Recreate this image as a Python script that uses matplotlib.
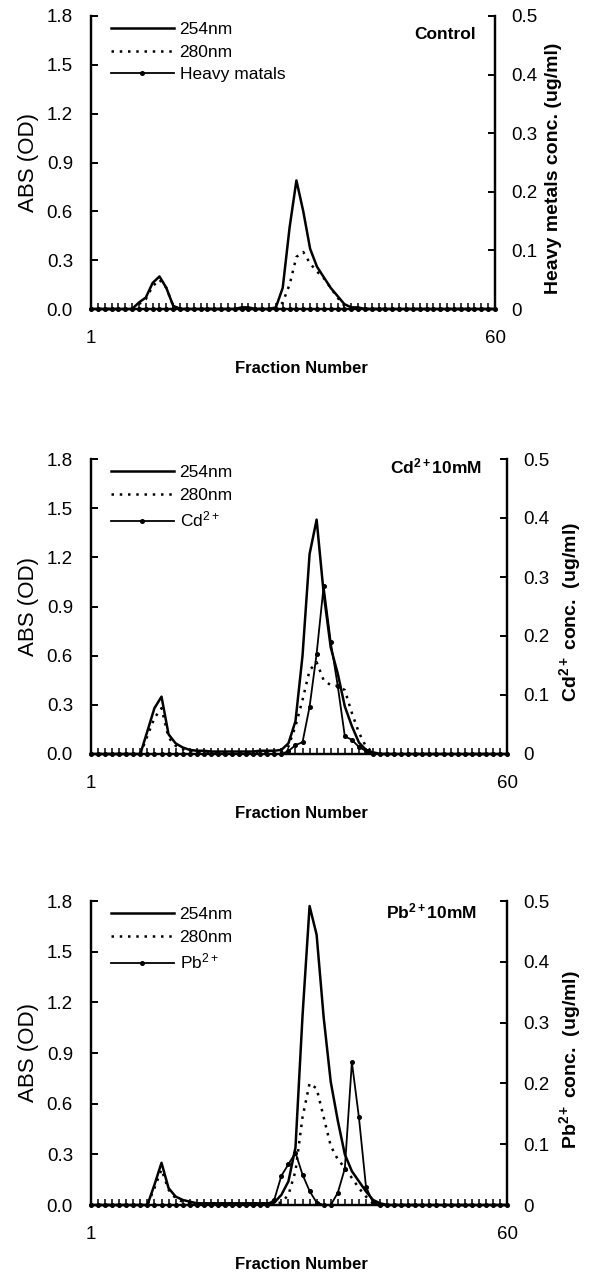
import numpy as np
import matplotlib
matplotlib.use("Agg")
import matplotlib.pyplot as plt
from matplotlib.ticker import MultipleLocator

plt.rcParams['font.family'] = ['Liberation Sans', 'DejaVu Sans']
plt.rcParams['mathtext.fontset'] = 'custom'
plt.rcParams['mathtext.rm'] = 'Liberation Sans'
plt.rcParams['mathtext.bf'] = 'Liberation Sans:bold'
plt.rcParams['mathtext.it'] = 'Liberation Sans:italic'

# ---------------- data ----------------
fractions = list(range(1, 61))

# Control
ctrl_254 = [0, 0, 0, 0, 0, 0, 0, 0.04, 0.07, 0.16,
            0.20, 0.13, 0.02, 0, 0, 0, 0, 0, 0, 0,
            0, 0, 0.01, 0.01, 0, 0, 0, 0.01, 0.13, 0.50,
            0.79, 0.60, 0.37, 0.26, 0.195, 0.13, 0.08, 0.03, 0.01, 0.01,
            0, 0, 0, 0, 0, 0, 0, 0, 0, 0,
            0, 0, 0, 0, 0, 0, 0, 0, 0, 0]
ctrl_280 = [0, 0, 0, 0, 0, 0, 0, 0.03, 0.06, 0.14,
            0.18, 0.13, 0.02, 0, 0, 0, 0, 0, 0, 0,
            0, 0, 0, 0, 0, 0, 0, 0, 0.04, 0.15,
            0.32, 0.35, 0.28, 0.23, 0.19, 0.13, 0.07, 0.02, 0, 0,
            0, 0, 0, 0, 0, 0, 0, 0, 0, 0,
            0, 0, 0, 0, 0, 0, 0, 0, 0, 0]
ctrl_metal = [0] * 60

# Cd2+ 10mM
cd_254 = [0, 0, 0, 0, 0, 0, 0, 0, 0.14, 0.28,
          0.35, 0.12, 0.065, 0.04, 0.025, 0.02, 0.02, 0.015, 0.015, 0.015,
          0.015, 0.015, 0.015, 0.015, 0.02, 0.02, 0.02, 0.025, 0.065, 0.20,
          0.60, 1.22, 1.43, 0.98, 0.65, 0.49, 0.29, 0.17, 0.07, 0.025,
          0.01, 0, 0, 0, 0, 0, 0, 0, 0, 0,
          0, 0, 0, 0, 0, 0, 0, 0, 0, 0]
cd_280 = [0, 0, 0, 0, 0, 0, 0, 0, 0.11, 0.22,
          0.28, 0.10, 0.05, 0.03, 0.02, 0.01, 0.01, 0.01, 0.01, 0.01,
          0.01, 0.01, 0.01, 0.01, 0.01, 0.01, 0.01, 0.015, 0.045, 0.17,
          0.33, 0.51, 0.56, 0.45, 0.42, 0.415, 0.39, 0.25, 0.13, 0.045,
          0.01, 0, 0, 0, 0, 0, 0, 0, 0, 0,
          0, 0, 0, 0, 0, 0, 0, 0, 0, 0]
cd_metal = [0, 0, 0, 0, 0, 0, 0, 0, 0, 0,
            0, 0, 0, 0, 0, 0, 0, 0, 0, 0,
            0, 0, 0, 0, 0, 0, 0, 0, 0.005, 0.015,
            0.02, 0.08, 0.17, 0.285, 0.19, 0.115, 0.03, 0.024, 0.012, 0.005,
            0, 0, 0, 0, 0, 0, 0, 0, 0, 0,
            0, 0, 0, 0, 0, 0, 0, 0, 0, 0]

# Pb2+ 10mM
pb_254 = [0, 0, 0, 0, 0, 0, 0, 0, 0, 0.12,
          0.25, 0.10, 0.05, 0.03, 0.02, 0.01, 0.01, 0.01, 0.01, 0.01,
          0.01, 0.01, 0.01, 0.01, 0.01, 0.01, 0.015, 0.06, 0.14, 0.34,
          1.12, 1.77, 1.60, 1.11, 0.73, 0.50, 0.30, 0.20, 0.14, 0.08,
          0.03, 0.01, 0, 0, 0, 0, 0, 0, 0, 0,
          0, 0, 0, 0, 0, 0, 0, 0, 0, 0]
pb_280 = [0, 0, 0, 0, 0, 0, 0, 0, 0, 0.10,
          0.21, 0.09, 0.04, 0.02, 0.01, 0.01, 0.01, 0.01, 0.01, 0.01,
          0.01, 0.01, 0.01, 0.01, 0.01, 0.01, 0.01, 0.014, 0.06, 0.20,
          0.52, 0.72, 0.69, 0.52, 0.35, 0.27, 0.22, 0.16, 0.10, 0.05,
          0.01, 0, 0, 0, 0, 0, 0, 0, 0, 0,
          0, 0, 0, 0, 0, 0, 0, 0, 0, 0]
pb_metal = [0, 0, 0, 0, 0, 0, 0, 0, 0, 0,
            0, 0, 0, 0, 0, 0, 0, 0, 0, 0,
            0, 0, 0, 0, 0, 0, 0.009, 0.048, 0.067, 0.086,
            0.05, 0.023, 0.004, 0, 0, 0.02, 0.06, 0.235, 0.144, 0.03,
            0.004, 0, 0, 0, 0, 0, 0, 0, 0, 0,
            0, 0, 0, 0, 0, 0, 0, 0, 0, 0]

abs_ticks = [0.0, 0.3, 0.6, 0.9, 1.2, 1.5, 1.8]
abs_ticklabels = ["0.0", "0.3", "0.6", "0.9", "1.2", "1.5", "1.8"]
conc_ticks = [0, 0.1, 0.2, 0.3, 0.4, 0.5]
conc_ticklabels = ["0", "0.1", "0.2", "0.3", "0.4", "0.5"]
x_ticks = [1, 60]
x_ticklabels = ["1", "60"]

panels = [
    dict(a254=ctrl_254, a280=ctrl_280, metal=ctrl_metal,
         metal_label="Heavy matals", tag="Control",
         rlabel="Heavy metals conc. (ug/ml)"),
    dict(a254=cd_254, a280=cd_280, metal=cd_metal,
         metal_label="Cd$^{2+}$", tag=r"Cd$^{\mathbf{2+}}$10mM",
         rlabel=r"Cd$^{\mathbf{2+}}$ conc.  (ug/ml)"),
    dict(a254=pb_254, a280=pb_280, metal=pb_metal,
         metal_label="Pb$^{2+}$", tag=r"Pb$^{\mathbf{2+}}$10mM",
         rlabel=r"Pb$^{\mathbf{2+}}$ conc.  (ug/ml)"),
]

# layout in pixels (left, right, top, bottom)
W, H = 589, 1277
boxes = [(91, 495, 16, 309), (91, 507, 459, 754), (91, 507, 901, 1205)]
tag_pos = [(476, 39), (482, 473), (477, 918)]

fig = plt.figure(figsize=(W / 100, H / 100), dpi=100)

for p, (l, r, t, b), (tx, ty) in zip(panels, boxes, tag_pos):
    ax = fig.add_axes([l / W, 1 - b / H, (r - l) / W, (b - t) / H])
    ax2 = ax.twinx()
    ax.set_xlim(1, 60)
    ax.set_ylim(0, 1.8)
    ax2.set_ylim(0, 0.5)

    l1, = ax.plot(fractions, p['a254'], color='black', lw=1.8,
                  solid_joinstyle='round', clip_on=False, zorder=3)
    l2, = ax.plot(fractions, p['a280'], color='black', lw=1.8,
                  linestyle=(0, (1.0, 2.3)), clip_on=False, zorder=3)
    l3, = ax2.plot(fractions, p['metal'], color='black', lw=1.3,
                   marker='o', markersize=2.6, clip_on=False, zorder=3)

    for a in (ax, ax2):
        a.spines['top'].set_visible(False)
        for s in ('left', 'right', 'bottom'):
            a.spines[s].set_linewidth(1.6)

    ax.set_yticks(abs_ticks)
    ax.set_yticklabels(abs_ticklabels)
    ax.set_xticks(x_ticks)
    ax.set_xticklabels(x_ticklabels)
    ax.xaxis.set_minor_locator(MultipleLocator(1))
    ax.tick_params(axis='y', direction='in', length=5, width=1.4,
                   labelsize=13.5, pad=13)
    ax.tick_params(axis='x', which='both', direction='in', length=4,
                   width=1.1, labelsize=13.5, pad=15)
    ax2.set_yticks(conc_ticks)
    ax2.set_yticklabels(conc_ticklabels)
    ax2.tick_params(axis='y', direction='in', length=5, width=1.4,
                    labelsize=13.5, pad=12)

    pw = r - l
    ph = b - t
    ax.set_ylabel("ABS (OD)", fontsize=16)
    ax.yaxis.set_label_coords((39 - l) / pw, 0.5)
    ax2.set_ylabel(p['rlabel'], fontsize=14, fontweight='bold')
    ax2.yaxis.set_label_coords((r + 50 - l) / pw, 0.48)
    ax.set_xlabel("Fraction Number", fontsize=12, fontweight='bold')
    ax.xaxis.set_label_coords((301 - l) / pw, -52 / ph)

    ax2.text((tx - l) / pw, (b - ty) / ph, p['tag'], transform=ax2.transAxes,
             ha='right', va='baseline', fontsize=12.5, fontweight='bold')

    ax2.legend([l1, l2, l3], ["254nm", "280nm", p['metal_label']],
               loc='upper left', bbox_to_anchor=(20 / pw, 1 - 6 / ph),
               frameon=False, borderpad=0, borderaxespad=0,
               handlelength=3.6, handletextpad=0.35, labelspacing=0.42,
               fontsize=12.5, numpoints=1)

fig.savefig("out.png", dpi=100)
